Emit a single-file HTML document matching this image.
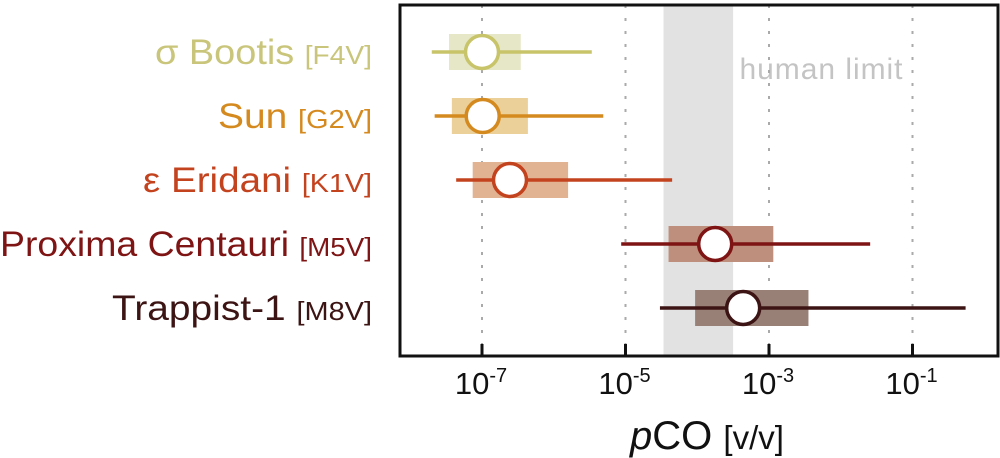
<!DOCTYPE html>
<html><head><meta charset="utf-8"><style>
body{margin:0;background:#fff;}
svg{display:block;font-family:"Liberation Sans",sans-serif;}
</style></head><body>
<svg width="1000" height="458" viewBox="0 0 1000 458">
<g id="plot"></g>
</svg>
<script>
const stars=["σ Bootis","Sun","ε Eridani","Proxima Centauri","Trappist-1"];
const types=["[F4V]","[G2V]","[K1V]","[M5V]","[M8V]"];
const med=[-7.0,-6.99,-6.61,-3.75,-3.36];
const lo=[-7.7,-7.66,-7.36,-5.06,-4.52];
const hi=[-5.47,-5.31,-4.35,-1.59,-0.26];
const boxLo=[-7.46,-7.42,-7.13,-4.40,-4.03];
const boxHi=[-6.46,-6.36,-5.80,-2.94,-2.45];
const tickExp=[-7,-5,-3,-1];
const humanLimit=[-4.47,-3.50];
const lineCol=["#c8c46a","#d58a1f","#c4431f","#7e1414","#3d1414"];
const boxCol=["#e6e7c6","#ecd09a","#e2b393","#be8f7c","#998077"];
const txtCol=["#c9c57a","#d58a1f","#c4431f","#7e1414","#3d1414"];
const labelW=[217,154,229,372,260];
const NS="http://www.w3.org/2000/svg";
const g=document.getElementById('plot');
const X=v=>482+(v+7)*71.75;
const Y=i=>52+i*64;
const L=400,R=998,T=5,B=356;
function mk(t,a,p){const e=document.createElementNS(NS,t);for(const k in a)e.setAttribute(k,a[k]);(p||g).appendChild(e);return e;}
let e=mk('rect',{x:X(humanLimit[0]),y:T,width:X(humanLimit[1])-X(humanLimit[0]),height:B-T,fill:'#e2e2e2'});


e=mk('text',{x:821,y:79,'font-size':30,fill:'#c4c4c4','text-anchor':'middle','textLength':163});e.textContent='human limit';


tickExp.forEach(t=>{
 e=mk('line',{x1:X(t),x2:X(t),y1:T,y2:B,stroke:'#aaa','stroke-width':2,'stroke-dasharray':'3,10'});
 
 
 e=mk('line',{x1:X(t),x2:X(t),y1:B,y2:B-12,stroke:'#111','stroke-width':3});
 
 
 e=mk('text',{x:X(t)-1,y:394,'font-size':31,fill:'#111','text-anchor':'middle'});
 e.innerHTML='10<tspan font-size="20" dy="-12">'+t+'</tspan>';
 
 
});
stars.forEach((s,i)=>{
 const y=Y(i);
 e=mk('rect',{x:X(boxLo[i]),y:y-18,width:X(boxHi[i])-X(boxLo[i]),height:36,fill:boxCol[i]});
 
 
 e=mk('line',{x1:X(lo[i]),x2:X(hi[i]),y1:y,y2:y,stroke:lineCol[i],'stroke-width':3.5});
 
 
 e=mk('circle',{cx:X(med[i]),cy:y,r:16.5,fill:'#fff',stroke:lineCol[i],'stroke-width':3.5});
 
 
 e=mk('text',{x:372-labelW[i],y:y+12,'font-size':35,fill:txtCol[i],'textLength':labelW[i],'lengthAdjust':'spacingAndGlyphs'});
 e.innerHTML=s+' <tspan font-size="26">'+types[i]+'</tspan>';
 
 
});
e=mk('rect',{x:L,y:T,width:R-L,height:B-T,fill:'none',stroke:'#111','stroke-width':3});


e=mk('text',{x:707,y:449,'font-size':40,fill:'#111','text-anchor':'middle'});
e.innerHTML='<tspan font-style="italic">p</tspan>CO <tspan font-size="33">[v/v]</tspan>';


</script>
</body></html>
